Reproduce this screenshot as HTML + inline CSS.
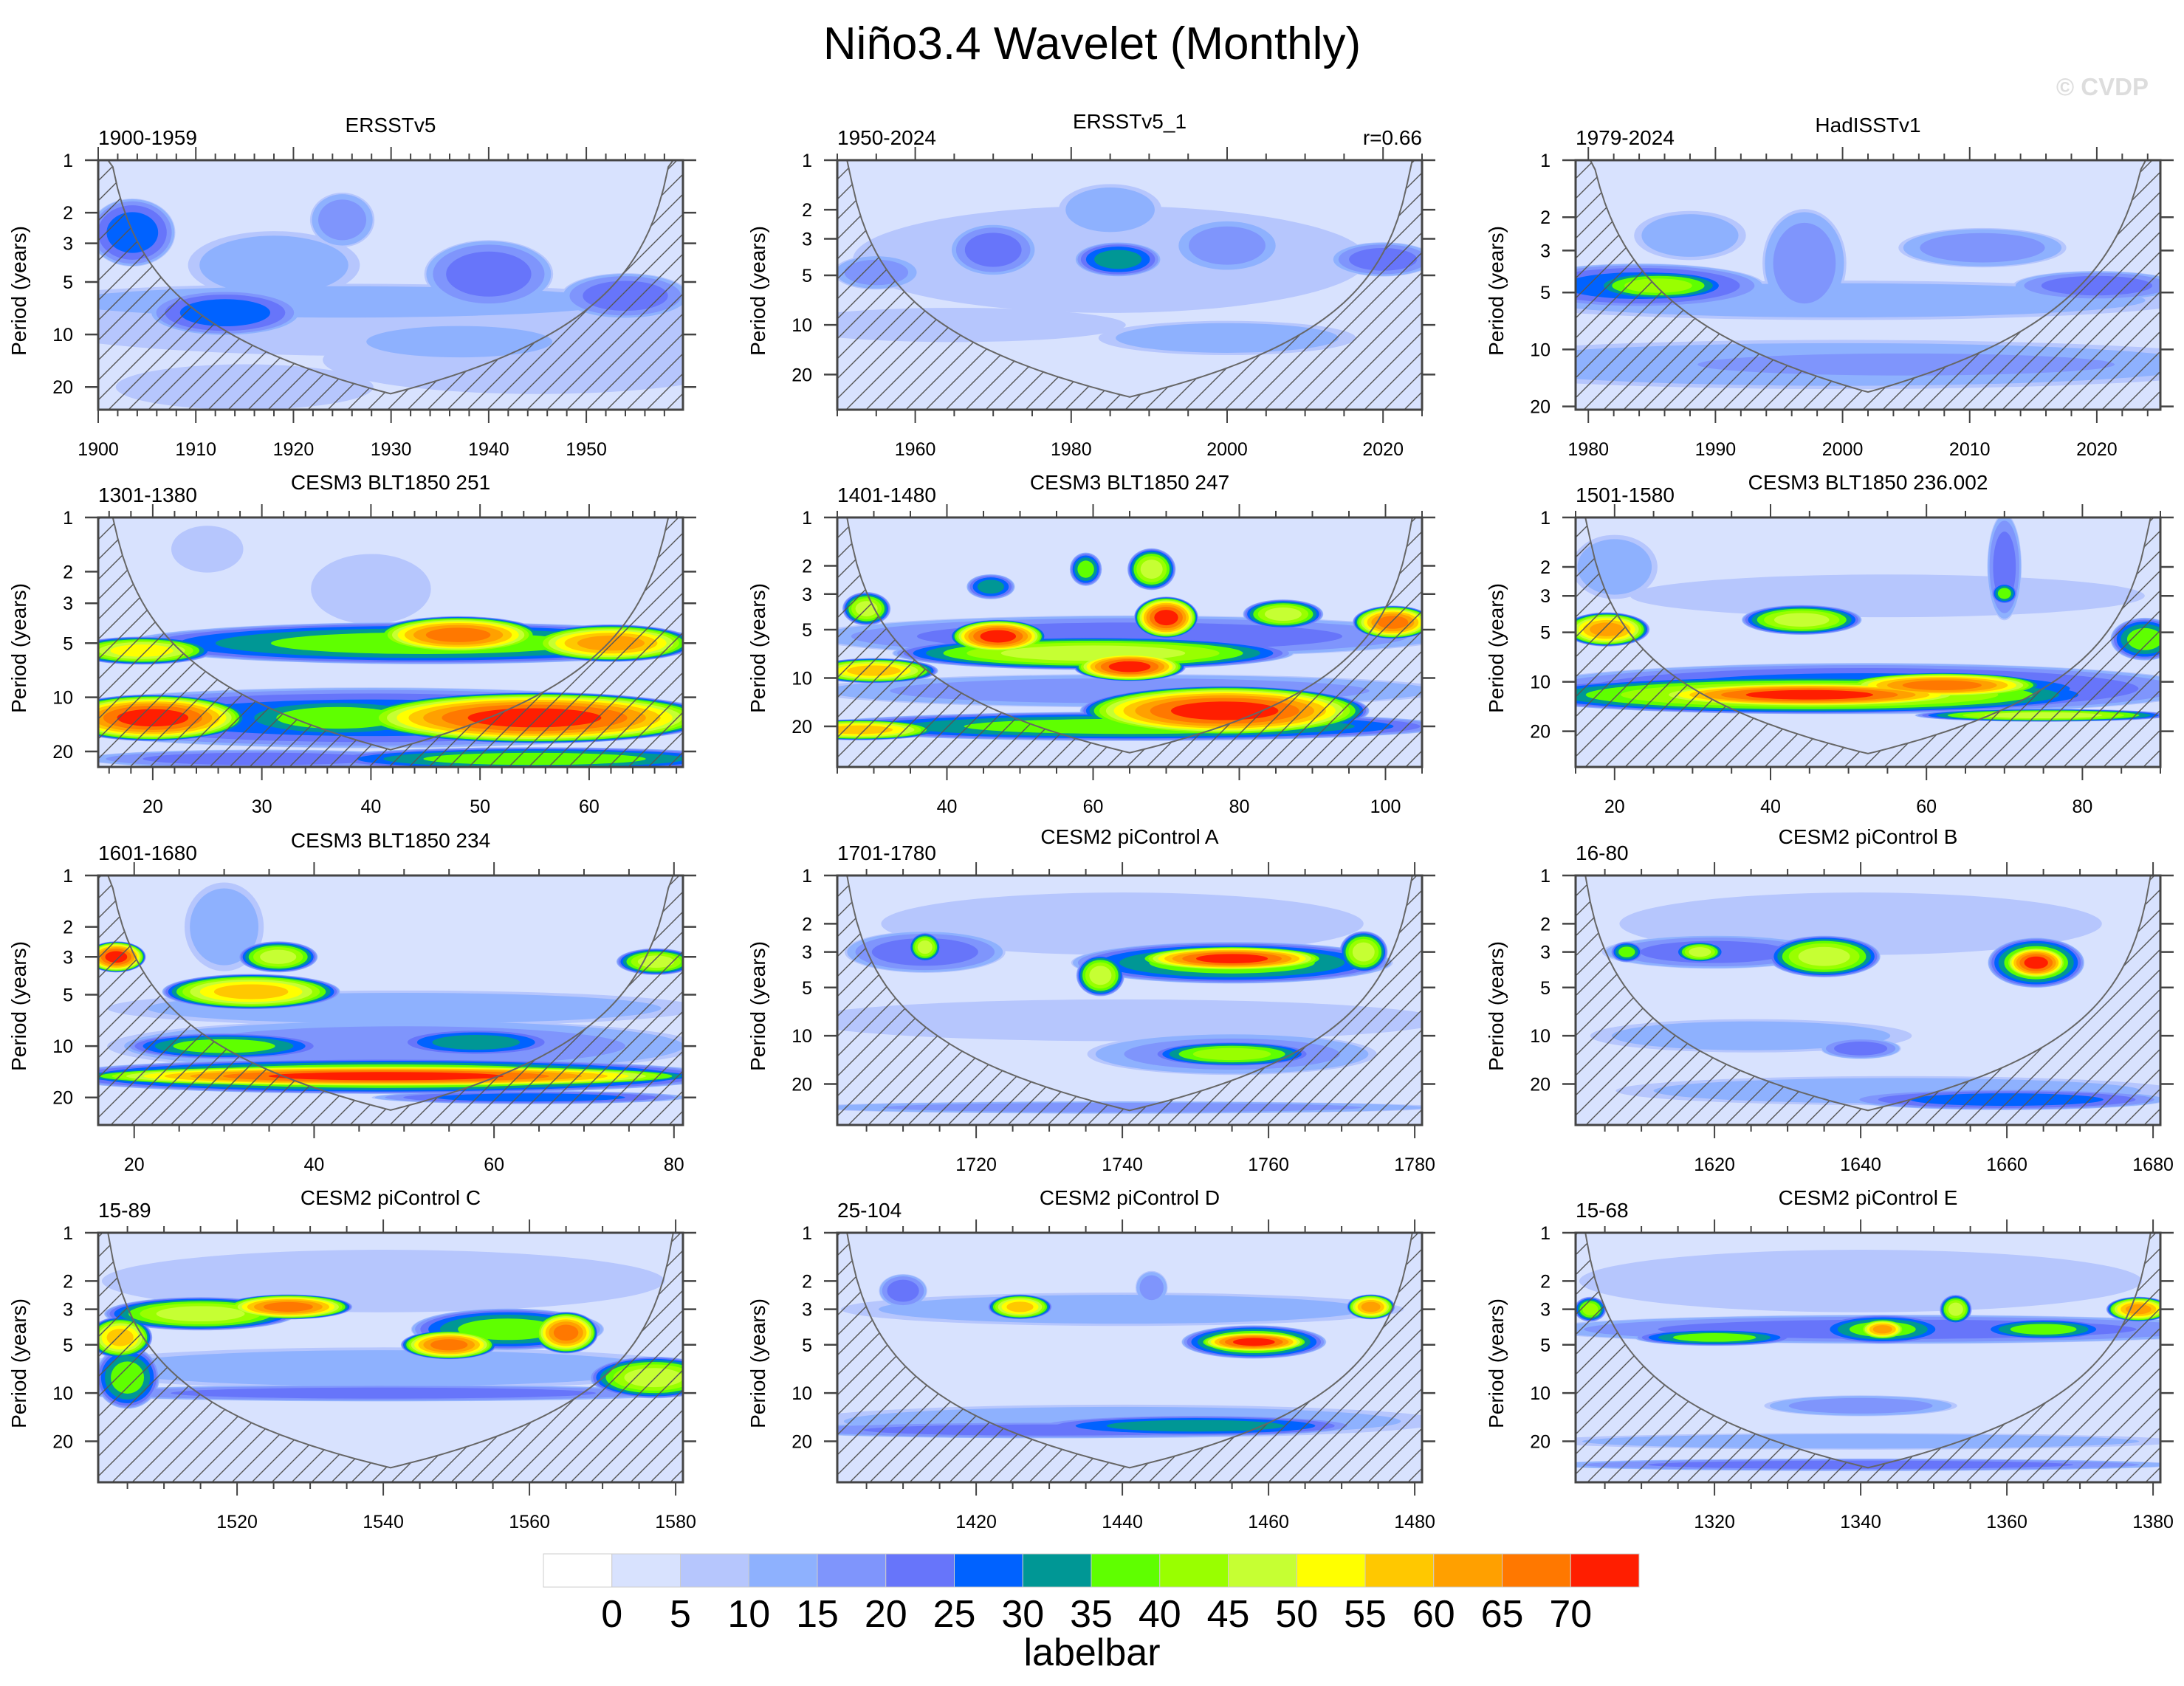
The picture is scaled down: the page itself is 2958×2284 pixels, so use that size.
<!DOCTYPE html>
<html><head><meta charset="utf-8"><style>
body{margin:0;background:#fff;}
svg{display:block;font-family:"Liberation Sans",sans-serif;}
</style></head><body>
<svg id="chart" width="2958" height="2284" viewBox="0 0 2958 2284" xmlns="http://www.w3.org/2000/svg">
<defs>
<pattern id="hatch" patternUnits="userSpaceOnUse" width="27" height="27">
<line x1="0" y1="27" x2="27" y2="0" stroke="#555" stroke-width="1.4"/>
<line x1="-3" y1="3" x2="3" y2="-3" stroke="#555" stroke-width="1.4"/>
<line x1="24" y1="30" x2="30" y2="24" stroke="#555" stroke-width="1.4"/>
</pattern>
</defs>
<text x="1479" y="80" font-size="62" text-anchor="middle">Niño3.4 Wavelet (Monthly)</text>
<text x="2910" y="129" font-size="33" font-weight="bold" fill="#dddddd" text-anchor="end">© CVDP</text>
<g id="panels"></g>
<g id="labelbar"></g>
</svg>
<script>
const levelColors = ["#ffffff","#d8e2fe","#b6c6fd","#8eb1fe","#7f95fc","#6775fa","#0062ff","#009795","#5fff00","#99ff00","#c6ff33","#ffff00","#ffc800","#ffa000","#ff7800","#ff1e00"];
const levelLabels = ["0","5","10","15","20","25","30","35","40","45","50","55","60","65","70"];

const panelTitles = ["ERSSTv5","ERSSTv5_1","HadISSTv1","CESM3 BLT1850 251","CESM3 BLT1850 247","CESM3 BLT1850 236.002","CESM3 BLT1850 234","CESM2 piControl A","CESM2 piControl B","CESM2 piControl C","CESM2 piControl D","CESM2 piControl E"];
const panelYearLabels = ["1900-1959","1950-2024","1979-2024","1301-1380","1401-1480","1501-1580","1601-1680","1701-1780","16-80","15-89","25-104","15-68"];
const panelStart = [1900,1950,1979,15,25,15,16,1701,1601,1501,1401,1301];
const panelEnd = [1959.9,2025,2025,68.6,105,90,81,1781,1681,1581,1481,1381];
const panelMaxPeriod = [27,32.7,20.8,24.4,35.8,33,29,36,36,36,36,36];
const panelMajor = [10,20,10,10,20,20,20,20,20,20,20,20];
const panelMinor = [2,5,2,2,5,5,5,5,5,5,5,5];
const periodTicks = [1,2,3,5,10,20];

// blobs: [time, period, half-width (yr), half-height (log10 period), peak level]
const blobs1 = [[1930,8.5,35,0.15,2],[1945,14,20,0.15,2],[1915,20,12,0.1,2],[1925,6.5,30,0.08,3],[1918,4,8,0.15,3],[1903.5,2.6,4,0.15,6],[1913,7.5,7,0.1,6],[1925,2.2,3,0.12,4],[1940,4.5,6,0.15,5],[1954,6,6,0.1,5],[1937,11,10,0.08,3]];
const blobs2 = [[1985,4,30,0.25,2],[1955,4.8,5,0.08,4],[1970,3.5,5,0.12,5],[1986,4,5,0.08,7],[2000,3.3,6,0.12,4],[2020,4,6,0.08,5],[2000,12,15,0.08,3],[1965,10,20,0.08,2],[1985,2,6,0.12,3]];
const blobs3 = [[2000,5.5,25,0.08,3],[2000,12,30,0.1,3],[2005,12,20,0.06,4],[1984,4.6,9,0.09,6],[1985.5,4.6,5,0.06,9],[1997,3.5,3,0.22,4],[2011,2.9,6,0.08,4],[2020,4.6,6,0.06,5],[1988,2.5,4,0.1,3]];
const blobs4 = [[40,13,30,0.13,6],[37,13,10,0.09,8],[20,13,8,0.1,15],[55,13,15,0.11,15],[45,5,25,0.09,8],[19,5.5,6,0.06,11],[48,4.5,7,0.08,14],[62,5,7,0.08,13],[55,22,18,0.05,8],[30,22,15,0.04,5],[25,1.5,3,0.1,2],[40,2.5,5,0.15,2]];
const blobs5 = [[65,5.5,40,0.1,5],[65,12,40,0.08,4],[65,20,40,0.07,8],[60,7,25,0.08,10],[78,16,18,0.12,15],[65,8.5,7,0.07,15],[47,5.5,6,0.08,15],[70,4.2,4,0.1,15],[86,4,5,0.07,10],[101,4.5,5,0.08,14],[29,3.7,3,0.08,10],[30,9,8,0.06,12],[59,2.1,2,0.08,8],[68,2.1,3,0.1,10],[46,2.7,3,0.06,7],[28,21,10,0.05,12]];
const blobs6 = [[52,11,40,0.12,6],[45,12,35,0.09,10],[45,12,20,0.06,15],[62,10.5,12,0.06,14],[75,16,15,0.03,10],[19,4.8,5,0.08,13],[44,4.2,7,0.07,10],[70,2.9,1.5,0.05,8],[70,2,2,0.25,5],[88,5.5,4,0.1,8],[20,2,5,0.15,3],[55,3,30,0.1,2]];
const blobs7 = [[50,10,30,0.12,4],[48,15,34,0.08,9],[48,15,32,0.05,15],[30,10,10,0.06,8],[58,9.5,8,0.06,7],[18,3,3,0.07,15],[33,4.8,9,0.08,12],[36,3,4,0.07,10],[78,3.2,4,0.06,10],[30,2,4,0.2,3],[64,20,16,0.03,6],[50,6,30,0.08,3]];
const blobs8 = [[1740,8,40,0.1,2],[1755,3.5,20,0.1,8],[1755,3.3,12,0.06,15],[1737,4.2,3,0.1,10],[1713,3,10,0.1,5],[1713,2.8,2,0.07,10],[1773,3,3,0.1,10],[1755,13,18,0.1,4],[1755,13,10,0.06,9],[1740,28,40,0.03,4],[1740,2,30,0.15,2]];
const blobs9 = [[1645,22,35,0.07,3],[1625,10,20,0.08,3],[1620,3,14,0.08,5],[1664,3.5,6,0.12,9],[1664,3.5,4,0.08,15],[1635,3.2,7,0.1,10],[1618,3,3,0.05,10],[1608,3,2,0.05,8],[1640,12,5,0.05,5],[1660,25,20,0.05,6],[1640,2,30,0.15,2]];
const blobs10 = [[1540,7,40,0.1,3],[1540,10,40,0.04,5],[1515,3.2,12,0.08,10],[1504,4.5,4,0.1,12],[1527,2.9,8,0.06,14],[1557,4,12,0.1,8],[1549,5,6,0.07,14],[1565,4.2,4,0.1,14],[1577,8,8,0.1,10],[1505,8,4,0.15,8],[1540,2,35,0.15,2]];
const blobs11 = [[1440,15,40,0.08,3],[1430,17,35,0.04,5],[1450,16,20,0.05,7],[1458,4.8,9,0.08,9],[1458,4.8,7,0.05,15],[1426,2.9,4,0.06,12],[1474,2.9,3,0.06,13],[1444,2.2,2,0.08,4],[1410,2.3,3,0.08,5],[1440,3,35,0.08,3]];
const blobs12 = [[1340,20,40,0.04,3],[1345,4,45,0.07,5],[1340,28,40,0.03,5],[1343,4,8,0.07,8],[1343,4,3,0.05,13],[1378,3,4,0.06,13],[1353,3,2,0.07,10],[1303,3,2,0.06,9],[1320,4.5,10,0.04,8],[1365,4,8,0.05,8],[1340,12,12,0.05,4],[1340,2,35,0.15,2]];
const allBlobs = [blobs1,blobs2,blobs3,blobs4,blobs5,blobs6,blobs7,blobs8,blobs9,blobs10,blobs11,blobs12];

const NS = "http://www.w3.org/2000/svg";
const colLeft = [133,1134,2134], plotW = 792, rowTop = [217,701,1186,1670], plotH = 338;
function mk(tag, attrs, parent){const e=document.createElementNS(NS,tag);for(const k in attrs)e.setAttribute(k,attrs[k]);parent.appendChild(e);return e;}
const panelsG = document.getElementById('panels');

for(let i=0;i<12;i++){
  const L = colLeft[i%3], T = rowTop[Math.floor(i/3)];
  const t0 = panelStart[i], t1 = panelEnd[i], pmax = panelMaxPeriod[i];
  const xs = t => L + (t - t0)/(t1 - t0)*plotW;
  const ys = p => T + Math.log10(p)/Math.log10(pmax)*plotH;
  const pxPerYear = plotW/(t1-t0), pxPerDec = plotH/Math.log10(pmax);
  const g = mk('g',{},panelsG);
  
  
  const clip = mk('clipPath',{id:'clip'+i},g);
  mk('rect',{x:L,y:T,width:plotW,height:plotH},clip);
  const plot = mk('g',{'clip-path':'url(#clip'+i+')'},g);
  const bg = mk('rect',{x:L,y:T,width:plotW,height:plotH,fill:levelColors[1]},plot);
  
  
  const bl = allBlobs[i];
  for(let k=2;k<=15;k++){
    bl.forEach(b=>{
      const lv=b[4]; if(lv<k) return;
      const f=(k-2)/(lv-1);
      const s = Math.sqrt(1-f*f);
      const e = mk('ellipse',{cx:xs(b[0]),cy:ys(b[1]),rx:b[2]*pxPerYear*s*1.1,ry:b[3]*pxPerDec*s*1.3,fill:levelColors[k]},plot);
      
      
    });
  }
  const pts=[]; const N=120;
  for(let j=0;j<=N;j++){const t=t0+(t1-t0)*j/N;const d=Math.min(t-t0,t1-t);let p=Math.max(1.0,0.73*d);p=Math.min(p,pmax);pts.push([xs(t),ys(p)]);}
  let dPoly='M'+L+','+(T+plotH)+' '+pts.map(p=>'L'+p[0].toFixed(1)+','+p[1].toFixed(1)).join(' ')+' L'+(L+plotW)+','+(T+plotH)+'Z';
  const hatch = mk('path',{d:dPoly,fill:'url(#hatch)'},plot);
  
  
  const coi = mk('path',{d:'M'+pts.map(p=>p[0].toFixed(1)+','+p[1].toFixed(1)).join(' L'),fill:'none',stroke:'#666',"stroke-width":2},plot);
  
  
  const fr = mk('rect',{x:L,y:T,width:plotW,height:plotH,fill:'none',stroke:'#444','stroke-width':3},g);
  
  
  periodTicks.forEach(p=>{
    if(p>pmax) return;
    const y=ys(p);
    mk('line',{x1:L-18,y1:y,x2:L,y2:y,stroke:'#444','stroke-width':2.5},g);
    mk('line',{x1:L+plotW,y1:y,x2:L+plotW+18,y2:y,stroke:'#444','stroke-width':2.5},g);
    const tx = mk('text',{x:L-34,y:y+9,'font-size':25,'text-anchor':'end'},g);
    tx.textContent=p;
    
    
  });
  const yt = mk('text',{x:0,y:0,'font-size':28,'text-anchor':'middle',transform:'translate('+(L-98)+','+(T+plotH/2+8)+') rotate(-90)'},g);
  yt.textContent='Period (years)';
  
  
  const mi = panelMinor[i], ma = panelMajor[i];
  for(let t=Math.ceil(t0/mi)*mi; t<=t1+1e-6; t+=mi){
    const x=xs(t); const major = Math.abs(t/ma-Math.round(t/ma))<1e-6; const len = major?18:9;
    mk('line',{x1:x,y1:T+plotH,x2:x,y2:T+plotH+len,stroke:'#444','stroke-width':2},g);
    mk('line',{x1:x,y1:T-len,x2:x,y2:T,stroke:'#444','stroke-width':2},g);
    if(major){
      const tx=mk('text',{x:x,y:T+plotH+62,'font-size':25,'text-anchor':'middle'},g);
      tx.textContent=t;
      
      
    }
  }
  const hi = (i===1||i===7||i===8)?5:0;
  const tt = mk('text',{x:L+plotW/2,y:T-38-hi,'font-size':28,'text-anchor':'middle'},g);
  tt.textContent=panelTitles[i];
  
  
  const yl = mk('text',{x:L,y:T-21,'font-size':28},g);
  yl.textContent=panelYearLabels[i];
  
  
  if(i===1){
    const r=mk('text',{x:L+plotW,y:T-21,'font-size':28,'text-anchor':'end'},g);
    r.textContent='r=0.66';
    
    
  }
}
const lb = document.getElementById('labelbar');
const bx0=736, bw=92.75, by=2105, bh=45;
levelColors.forEach((c,k)=>{
  const r=mk('rect',{x:bx0+k*bw,y:by,width:bw,height:bh,fill:c,stroke:'#ccc','stroke-width':1},lb);
  
  
});
levelLabels.forEach((s,k)=>{
  const t=mk('text',{x:bx0+(k+1)*bw,y:2204,'font-size':52,'text-anchor':'middle'},lb);
  t.textContent=s;
  
  
});
const lt=mk('text',{x:1479,y:2256,'font-size':52,'text-anchor':'middle'},lb);
lt.textContent='labelbar';


</script>
</body></html>
